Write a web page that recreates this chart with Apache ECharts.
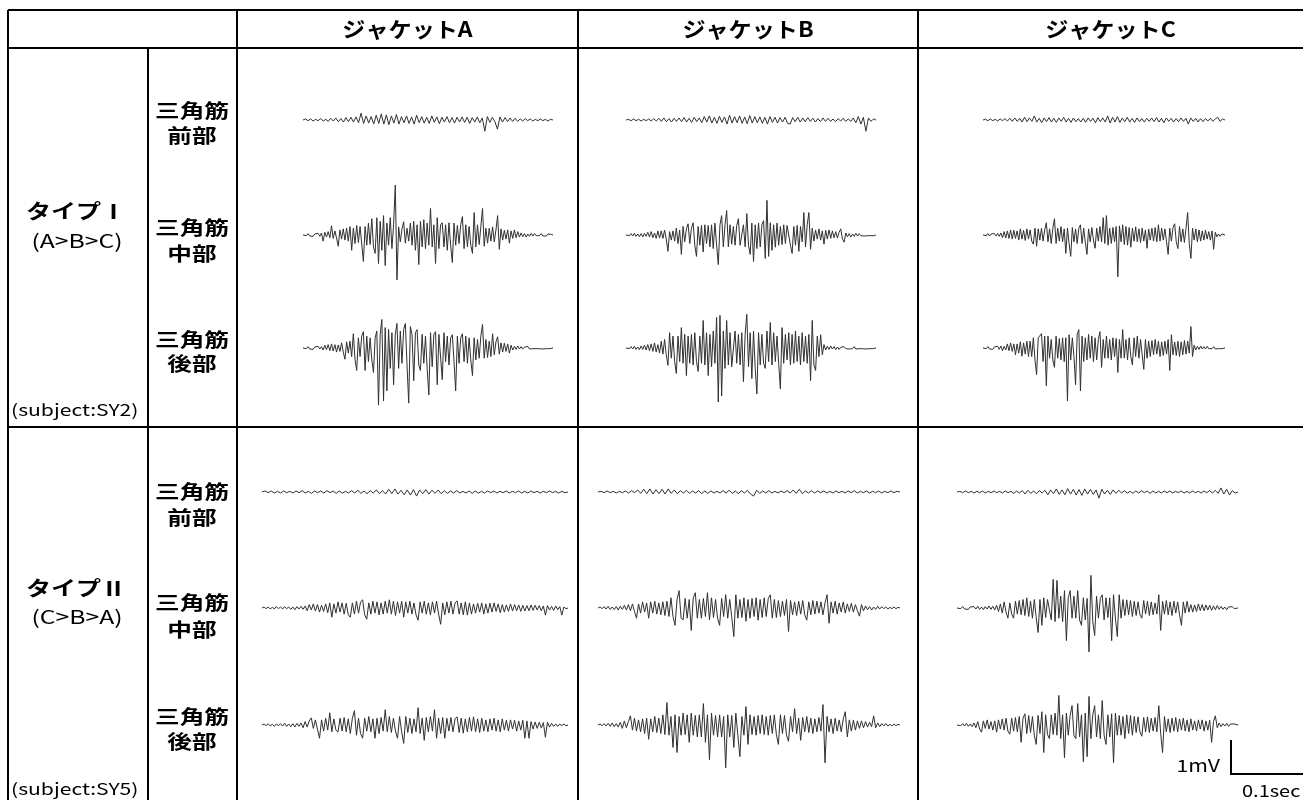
<!DOCTYPE html>
<html>
<head>
<meta charset="utf-8">
<script src="https://cdn.jsdelivr.net/npm/echarts@6/dist/echarts.min.js"></script>
<style>
  html, body { margin: 0; padding: 0; background: #fff; }
  #chart { width: 1303px; height: 800px; }
</style>
</head>
<body>
<div id="chart"></div>
<script>
// 列・行の見出し
const jackets = ['ジャケットA', 'ジャケットB', 'ジャケットC'];
const muscles = [['三角筋', '前部'], ['三角筋', '中部'], ['三角筋', '後部']];
const typeNames = ['タイプⅠ', 'タイプⅡ'];
const typeOrders = ['(A>B>C)', '(C>B>A)'];
const subjects = ['(subject:SY2)', '(subject:SY5)'];
const scaleLabels = ['1mV', '0.1sec'];

// 筋電図 (単位: 0.01 mV)  subject SY2
const sy2A_ant = [0,3,-2,3,-3,2,-2,4,-3,2, -4,5,-3,6,-5,4,-6,7,-5,8, -6,9,-8,20,-10,12,-9,10,-12,14, -10,18,-12,15,-14,12,-9,16,-12,10,
  -8,12,-10,9,-12,14,-8,10,-9,8, -10,12,-7,9,-11,8,-6,10,-8,7, -9,8,-6,9,-7,8,-10,7,-6,9, -8,6,-33,10,-7,8,-5,-27,9,-6,
  7,-5,6,-4,5,-4,3,-3,4,-2, 3,-3,2,-2,3,-2,2,-3,2,0];
const sy2A_mid = [0,3,-2,4,-3,2,-4,3,-2,5, -4,6,-18,8,-6,10,-8,27,-10,12, -9,-33,15,-12,18,-15,20,-18,25,-45, 20,-25,28,-22,25,30,-78,25,-30,35,
  -28,48,-35,-54,51,-84,40,-45,57,-90, 35,-30,51,-40,30,147,-132,24,-20,18, 39,-24,20,-18,35,-30,40,-45,30,-87, 40,-35,45,-40,35,-30,78,-35,30,-84,
  51,-40,30,36,-35,30,-45,36,-30,-81, 35,-30,28,-25,30,54,-40,30,-35,25, -30,-54,66,-35,30,-28,25,78,-33,20, -24,20,-18,24,-20,15,57,-42,18,-15,
  14,-12,15,-24,12,-10,15,-8,10,-6, 6,-5,4,-6,3,-4,5,-3,4,-2, 3,-2,4,-3,2,-3,3,-2,2,0];
const sy2A_post = [0,3,-2,4,-3,2,-4,3,-2,5, -3,4,-6,8,-5,10,-8,12,-9,10, -12,9,-10,15,-12,-33,18,-15,20,-25, 42,-33,-66,30,-25,35,48,-66,35,-40,
  30,-35,-72,30,50,-168,40,84,-156,60, -126,55,-60,45,-108,40,72,-60,50,-45, 55,72,-50,-162,63,40,-96,45,54,-50, -66,40,-45,35,-60,-138,45,-55,40,48,
  -108,40,39,-93,45,-40,35,-50,30,39, -40,-126,35,-45,30,42,-40,35,-45,30, -35,-81,30,-35,25,-30,35,69,-30,25, -28,20,-25,42,-20,18,33,-18,15,-12,
  14,-10,12,-15,8,-6,5,-4,6,-3, 4,-3,3,-2,4,-3,2,-2,3,-2, 3,-2,2,-3,2,-2,3,-2,2,0];
const sy2B_ant = [0,2,-2,3,-2,2,-3,2,-2,3, -3,4,-3,5,-4,6,-5,4,-6,5, -4,6,-5,7,-6,5,-7,8,-5,6, -8,10,-6,12,-9,8,-10,11,-7,9,
  -12,14,-9,10,-8,12,-10,9,-11,13, -9,10,-8,9,-10,8,-12,10,-7,8, -9,7,-6,8,-10,-12,7,-5,8,-6, 6,-5,7,-4,5,-6,4,-5,6,-4,
  5,-4,3,-5,4,-3,5,-4,3,-4, 6,-8,10,-12,8,-33,6,-4,3,0];
const sy2B_mid = [0,3,-2,4,-3,5,-4,3,-5,4, -6,5,-4,8,-6,10,-8,6,-10,12, -9,12,-10,14,-12,-48,10,-15,12,-18, 20,-25,15,-57,25,-20,18,33,-25,20,
  36,-30,-63,25,-30,28,-50,30,-25,28, -35,30,-40,35,-30,-87,30,57,-35,30, 72,-35,30,-27,25,-30,28,48,-30,-27, 30,-35,63,-30,-57,35,-78,30,-40,35,
  -35,30,42,-69,102,-63,36,-45,30,-36, 35,-30,25,-28,30,-25,28,33,-30,-54, 25,-30,28,-48,25,-20,66,-35,30,66, -42,20,-18,15,-12,18,-15,12,-27,14,
  -12,15,-10,12,-8,10,-9,8,18,-12, -21,6,-5,4,-6,3,-4,5,-3,4, -2,3,-3,2,-2,3,-2,2,-2,0];
const sy2B_post = [0,3,-2,4,-3,5,-4,3,-5,6, -4,8,-6,10,-8,12,-10,15,-12,10, -15,20,-18,25,-20,-51,45,-30,35,-40, -75,35,-40,60,-45,40,-81,35,-45,40,
  -50,45,-40,-69,35,-45,81,-50,45,-81, 40,-55,50,-45,90,-159,96,-141,50,-60, 81,-50,45,-55,-60,50,-45,40,-50,45, -99,40,99,-55,45,-90,50,-60,-135,45,
  -50,40,-45,-60,50,-40,75,-50,45,-40, 35,-45,-120,60,-45,40,-35,45,-50,40, -45,50,-40,35,-50,45,-40,35,-45,40, -96,81,-50,-66,35,-25,39,-20,10,-6,
  5,-4,6,-3,4,-5,3,-4,2,-3, 4,-2,3,-3,2,-2,4,-3,2,-2, 3,-2,2,-3,2,-2,3,-2,2,0];
const sy2C_ant = [0,2,-2,3,-2,2,-3,3,-2,4, -3,5,-4,6,-4,5,-6,8,-5,6, -4,12,-6,5,-8,6,-5,7,-6,5, -7,6,-4,8,-6,5,-7,6,-5,4,
  -6,5,-7,6,-4,5,-8,7,-5,6, -6,12,-9,8,-6,10,-7,6,-5,8, -6,5,-7,6,-5,4,-6,5,-4,6, -5,7,-6,5,-8,6,-4,5,-6,4,
  -5,6,-4,5,-12,6,-4,5,-6,4, -5,4,-3,5,-4,3,8,-4,3,0];
const sy2C_mid = [0,3,-2,4,-3,3,-2,4,-3,5, -4,6,-8,10,-9,12,-10,15,-12,14, -10,12,-15,18,-12,14,-16,18,-12,15, -18,-27,20,-33,18,-15,20,-18,15,36,
  -20,18,-25,20,48,-25,20,-18,25,-20, 18,-54,20,-25,-63,22,-20,18,-25,20, 30,-25,20,-22,-57,18,-20,22,-15,-39, 20,-18,25,-20,51,-25,57,-30,20,-25,
  22,-20,25,-123,27,-20,30,-28,25,-30, 22,-36,20,-18,24,-20,18,-22,20,-18, 15,-39,18,-15,20,-18,22,-20,30,-18, 20,-15,18,-20,-57,20,-18,22,33,-20,
  -40,25,-20,18,-22,20,66,-25,-69,20, -15,18,-20,15,-18,12,-15,14,-12,10, -15,12,-42,8,-5,3,-4,3,-2,0];
const sy2C_post = [0,3,-2,4,-3,2,-4,3,-2,5, -4,6,-8,5,-6,12,-8,15,-10,12, -20,12,-15,18,-24,15,-18,20,-25,20, -25,30,-35,-78,30,27,42,-40,35,-111,
  35,-30,25,-35,-57,35,-30,28,-35,30, -40,30,-156,39,-35,30,-25,-108,40,54, -126,35,-40,30,-35,40,-30,35,-40,30, -35,25,48,-57,25,-30,35,-30,25,-35,
  30,-25,28,-72,25,-30,54,-30,25,-35, 30,-25,-50,30,-25,35,-30,25,-20,-63, 25,-30,20,-25,22,-20,25,-18,20,-25, 18,-22,20,-18,25,-66,39,-20,18,-22,
  20,-25,18,-20,22,-18,20,-15,63,-25, 8,-6,5,-4,6,-3,4,-3,5,-2, 3,-2,4,-3,2,-2,3,-2,2,0];

// subject SY5
const sy5A_ant = [0,3,-2,3,-3,2,-3,3,-2,2, -3,3,-2,4,-3,2,-4,3,-2,3, -3,4,-2,3,-4,3,-3,2,-3,4, -3,5,-4,3,-5,4,-3,6,-5,4,
  -6,8,-5,9,-6,5,-8,6,-9,7, -12,6,-5,7,-6,5,-4,6,-5,4, -4,3,-3,4,-3,2,-3,3,-4,3, -3,2,-3,3,-2,3,-3,2,-2,3,
  -3,2,-2,3,-3,2,-3,3,-2,2, -3,2,-2,3,-2,2,-3,2,-2,0];
const sy5A_mid = [0,3,-2,3,-3,2,-3,4,-2,3, -3,4,-2,3,-4,3,-5,4,-3,5, -4,6,-8,10,-6,12,-9,10,-12,8, -10,12,-14,15,-27,12,-15,18,-12,15,
  -18,14,-20,-27,15,-18,20,-15,18,24, -20,-33,15,-18,20,-15,18,-20,15,-18, 20,-15,24,-18,20,-22,18,-15,20,-27, 18,-15,20,-18,15,-20,-36,18,-15,20,
  -18,15,-20,18,-15,20,-18,-48,15,-20, 18,-15,20,-18,15,21,-18,15,-20,18, -21,15,-18,12,-15,14,-12,15,-18,12, -15,14,-12,15,-10,12,-14,10,-12,9,
  -10,12,-9,10,-8,9,-10,8,-9,7, -8,9,-7,8,-6,7,-8,6,-21,7, -6,5,-7,6,-5,4,-21,3,-2,0];
const sy5A_post = [0,3,-2,4,-3,2,-4,3,-2,4, -3,5,-4,3,-5,4,-6,5,-4,6, -8,10,-6,12,21,-10,15,-12,-39,15, -18,20,-15,36,-20,18,-15,-21,20,-18,
  22,-20,18,-25,20,42,-30,20,-25,-39, 20,-18,25,-20,18,-39,20,-25,22,-18, 45,-20,25,-22,20,-18,-39,25,-20,-54, 25,-22,20,-25,18,-20,51,-25,20,-45,
  22,-20,25,-18,45,-39,20,-25,22,-39, 20,-18,22,-20,18,24,-22,20,-24,18, -20,22,-18,24,-20,18,-22,20,-18,15, -20,18,-15,20,-18,15,-20,18,-15,14,
  -18,15,-12,14,-18,12,-15,14,-39,12, -39,10,-12,9,-10,8,-9,7,-36,8, -6,5,-4,3,-4,3,-2,3,-2,0];
const sy5B_ant = [0,2,-2,3,-2,2,-3,2,-2,3, -3,4,-2,6,-4,8,-5,9,-6,7, -5,8,-6,9,-4,6,-5,4,-3,5, -4,3,-3,4,-5,3,-4,3,-3,2,
  -3,4,-3,5,-4,3,-5,4,-3,5, -6,-12,5,-4,3,-3,4,-3,2,-3, 3,-2,4,-3,6,-4,8,-5,3,-3, 4,-3,3,-2,3,-3,2,-3,3,-2,
  2,-3,3,-2,4,-3,2,-2,3,-3, 2,-2,3,-3,2,-2,3,-2,2,0];
const sy5B_mid = [0,3,-2,4,-3,5,-4,3,-5,4, -6,5,-4,8,-6,10,-8,12,-10,-30, 12,-15,18,-12,15,-30,18,-15,20,-18, 15,-20,18,-22,20,-25,30,-25,-51,25,
  51,-30,-35,28,-30,25,-66,30,45,-30, 25,-30,28,-25,45,-35,30,-28,25,-30, -51,28,-25,39,-30,25,-28,-84,39,-30, 25,-28,30,-39,25,-30,28,-25,30,-36,
  25,-28,30,-25,28,39,-30,25,-28,22, -25,20,-22,25,-69,22,-20,18,-22,20, -18,22,-20,-36,18,-20,22,-18,20,-15, 18,-20,15,39,-45,18,-15,20,-18,15,
  -12,18,-15,12,-10,14,-12,10,-8,-24, 10,-8,6,-5,4,-6,3,-4,5,-3, 4,-2,3,-3,2,-2,3,-2,2,0];
const sy5B_post = [0,3,-2,4,-3,5,-4,6,-5,4, -6,8,-10,12,-8,10,27,-15,20,-18, 15,-20,18,-25,20,-42,18,-20,25,-22, 20,-25,30,-28,66,-30,25,-66,30,-81,
  25,-30,35,-28,30,-51,35,-30,28,-35, 30,-35,63,-51,30,-102,35,-30,28,-35, 30,-35,25,-126,30,-35,28,-66,35,-30, -93,25,-30,54,-57,30,-28,25,-30,28,
  -25,30,-28,25,-30,28,-25,30,-28,-57, 30,-25,28,-30,-48,25,-20,48,-25,20, -45,22,-20,25,-22,20,-25,18,-20,22, -18,60,-111,25,-20,18,-25,20,-18,15,
  -20,18,39,-35,15,-18,14,-15,12,-10, 12,-8,10,-6,8,-5,27,-8,6,-5, 4,-3,4,-3,2,-3,3,-2,2,0];
const sy5C_ant = [0,2,-2,3,-2,2,-3,2,-2,3, -3,2,-2,3,-2,2,-3,3,-2,2, -4,3,-3,4,-6,5,-4,3,-5,4, -3,5,-8,6,-5,9,-7,6,-8,10,
  -6,8,-9,7,-10,9,-6,8,-7,6, -18,8,-6,5,-7,6,-4,5,-3,4, -3,2,-4,3,-3,4,-2,3,-4,3, -3,2,-3,3,-2,3,-3,2,-2,3,
  -3,2,-3,3,-2,2,-3,3,-2,4, -3,5,-4,12,-6,8,-9,4,-3,0];
const sy5C_mid = [0,3,-2,4,-3,2,-4,3,-2,4, -3,5,-4,3,-5,4,-3,6,-4,5, -6,8,-10,12,-15,18,-12,-30,15,-18, -30,20,-18,22,-20,25,-22,30,-25,20,
  -30,25,-28,-72,25,-51,30,-28,25,30, -35,84,-40,81,-30,35,-40,51,-96,30, 51,-30,35,-30,51,-35,-51,30,-35,28, -129,96,-40,-81,35,-30,28,39,-35,30,
  -28,30,-96,39,-30,-84,39,-30,25,-22, 24,-20,22,-25,20,-22,18,-20,-30,22, -18,20,-22,18,-20,15,-18,39,-66,20, -18,22,-20,18,-22,20,-15,18,-20,-51,
  18,-15,20,-12,10,-12,9,-10,12,-8, 10,-8,9,-6,8,-7,6,-5,7,-4, 5,-4,3,-5,3,-2,4,-2,2,0];
const sy5C_post = [0,3,-2,4,-3,5,-4,3,-5,6, -8,10,-12,-21,12,-10,15,-12,10,-15, 12,-21,15,-12,18,-15,20,-18,-27,20, -18,22,-20,25,-51,20,33,-25,28,-22,
  25,-30,-57,28,-25,39,-81,30,-28,-40, 30,-28,35,-30,87,-40,30,-96,35,-30, 28,57,-30,-40,63,-35,30,-108,35,-93, 84,-40,30,57,-35,30,-40,72,-30,-57,
  30,-35,33,-111,35,-30,28,-30,25,-40, 30,-25,28,-30,25,-22,24,-20,-33,22, -20,24,-22,20,-18,22,-20,57,-25,-81, 25,-20,18,-22,20,-18,22,-20,18,-15,
  20,-18,15,-20,18,-15,12,-18,15,-12, 15,-18,12,-15,14,-51,10,27,-8,6, -5,4,-3,5,-4,3,-2,3,-2,0];

const traces = [
  [[sy2A_ant, sy2B_ant, sy2C_ant], [sy2A_mid, sy2B_mid, sy2C_mid], [sy2A_post, sy2B_post, sy2C_post]],
  [[sy5A_ant, sy5B_ant, sy5C_ant], [sy5A_mid, sy5B_mid, sy5C_mid], [sy5A_post, sy5B_post, sy5C_post]]
];

// 配置 (px)
const PX_PER_MV = 34;
const baseY = [[120, 235, 348], [492, 608, 725]];
const spanX = [
  [[303, 553], [626, 876], [983, 1225]],
  [[262, 568], [598, 900], [957, 1238]]
];
const labelY = [[[111, 136], [228, 254], [340, 364]], [[492, 518], [603, 630], [717, 742]]];
const typeY = [[211, 241, 410], [588, 617, 789]];
const colX = [8, 148, 237, 578, 918];
const rowY = [10, 48, 427];

const FONT = '"Noto Sans CJK JP", "Noto Sans", sans-serif';
const chart = echarts.init(document.getElementById('chart'));

const grids = [], xAxes = [], yAxes = [], series = [];
const yHalf = 2 * 100; // ±2 mV in 0.01 mV units
traces.forEach((row, r) => {
  row.forEach((cols, m) => {
    cols.forEach((data, c) => {
      const k = grids.length;
      const [x0, x1] = spanX[r][c];
      grids.push({ left: x0, top: baseY[r][m] - 2 * PX_PER_MV, width: x1 - x0, height: 4 * PX_PER_MV });
      xAxes.push({ type: 'category', gridIndex: k, boundaryGap: false, data: data.map((_, i) => i), show: false });
      yAxes.push({ type: 'value', gridIndex: k, min: -yHalf, max: yHalf, show: false });
      series.push({
        type: 'line', xAxisIndex: k, yAxisIndex: k, data: data,
        symbol: 'none', silent: true,
        lineStyle: { color: '#303030', width: 1 }
      });
    });
  });
});

// 表の罫線と文字
const g = [];
const line = (x1, y1, x2, y2) => g.push({
  type: 'line', shape: { x1, y1, x2, y2 }, style: { stroke: '#000', lineWidth: 2 }, silent: true
});
rowY.forEach(y => line(colX[0], y, 1303, y));
line(colX[0], rowY[0], colX[0], 800);
line(colX[1], rowY[1], colX[1], 800);
[2, 3, 4].forEach(i => line(colX[i], rowY[0], colX[i], 800));

const text = (str, x, y, size, align, weight, sx) => g.push({
  type: 'text', x, y, scaleX: sx || 1.25, silent: true,
  style: { text: str, x: 0, y: 0, font: (weight || 'normal') + ' ' + size + 'px ' + FONT,
    fill: '#000', textAlign: align || 'center', textVerticalAlign: 'middle' }
});

jackets.forEach((j, c) => text(j, (colX[c + 2] + (colX[c + 3] || 1303)) / 2, 29, 21, 'center', 'bold', 1.1));
[0, 1].forEach(r => {
  text(typeNames[r], 76, typeY[r][0], 20, 'center', 'bold');
  text(typeOrders[r], 77, typeY[r][1], 19, 'center', 'normal', 1.3);
  text(subjects[r], 11, typeY[r][2], 16, 'left', 'normal', 1.32);
  muscles.forEach((mu, m) => {
    text(mu[0], 192, labelY[r][m][0], 19, 'center', 'bold', 1.3);
    text(mu[1], 192, labelY[r][m][1], 19, 'center', 'bold', 1.3);
  });
});

// スケールバー
g.push({ type: 'polyline', silent: true, shape: { points: [[1231, 740], [1231, 774], [1303, 774]] },
  style: { stroke: '#000', lineWidth: 2, fill: null } });
text(scaleLabels[0], 1220, 766, 17, 'right');
text(scaleLabels[1], 1242, 791, 16, 'left');

chart.setOption({
  animation: false,
  backgroundColor: '#fff',
  grid: grids,
  xAxis: xAxes,
  yAxis: yAxes,
  series: series,
  graphic: { elements: g }
});
</script>
</body>
</html>
